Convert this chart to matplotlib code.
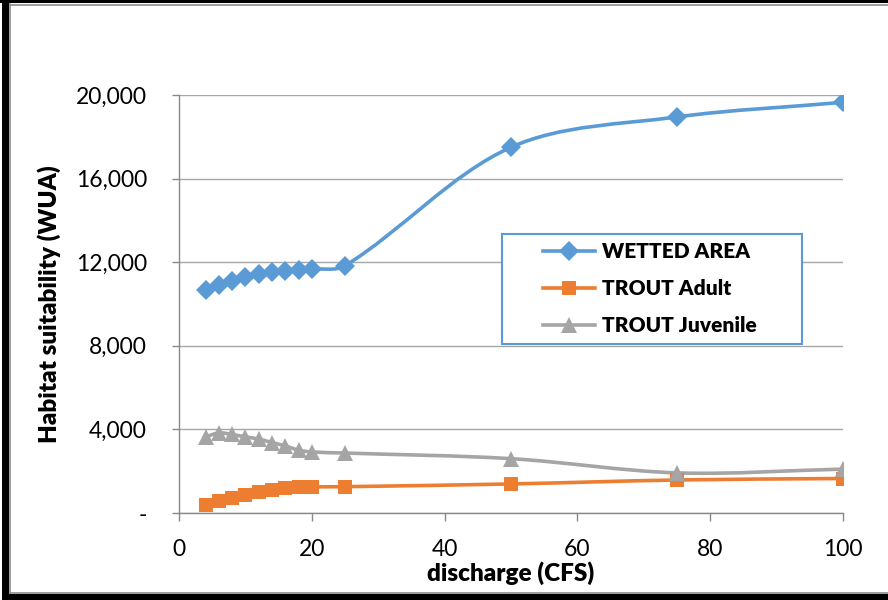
import numpy as np
import matplotlib
matplotlib.use('Agg')
import matplotlib.pyplot as plt
from matplotlib.path import Path
from matplotlib.patches import PathPatch, Rectangle
from matplotlib.lines import Line2D
from matplotlib.ticker import FuncFormatter

plt.rcParams['font.family'] = ['Lato', 'DejaVu Sans']

discharge = [4, 6, 8, 10, 12, 14, 16, 18, 20, 25, 50, 75, 100]
wetted_area = [10650, 10900, 11100, 11290, 11430, 11530, 11580, 11630, 11670, 11830, 17500, 18950, 19650]
trout_adult = [380, 570, 720, 860, 1000, 1100, 1200, 1240, 1250, 1260, 1390, 1580, 1650]
trout_juvenile = [3640, 3830, 3760, 3640, 3540, 3370, 3210, 3010, 2920, 2870, 2600, 1920, 2100]

series = [
    ('WETTED AREA', wetted_area, '#5B9BD5', 'D', 10),
    ('TROUT Adult', trout_adult, '#ED7D31', 's', 10.5),
    ('TROUT Juvenile', trout_juvenile, '#A5A5A5', '^', 11),
]


def smooth_path(ax, x, y):
    # smoothed line like excel: chord-length catmull-rom as cubic beziers,
    # lengths measured on screen so short steps don't overshoot much
    p = np.column_stack([x, y]).astype(float)
    s = ax.transData.transform(p)
    n = len(p)
    d = np.hypot(*np.diff(s, axis=0).T)
    verts = [p[0]]
    codes = [Path.MOVETO]
    for i in range(n - 1):
        if i > 0:
            c1 = p[i] + (p[i + 1] - p[i - 1]) * d[i] / (d[i - 1] + d[i]) / 3.0
        else:
            c1 = p[i] + (p[i + 1] - p[i]) / 3.0
        if i + 2 < n:
            c2 = p[i + 1] - (p[i + 2] - p[i]) * d[i] / (d[i] + d[i + 1]) / 3.0
        else:
            c2 = p[i + 1] - (p[i + 1] - p[i]) / 3.0
        verts += [c1, c2, p[i + 1]]
        codes += [Path.CURVE4] * 3
    return Path(verts, codes)


fig = plt.figure(figsize=(8.88, 6.0), dpi=100)
ax = fig.add_axes([179 / 888, 1 - 513 / 600, (843 - 179) / 888, (513 - 95) / 600])
ax.set_xlim(0, 100)
ax.set_ylim(0, 20000)

handles = []
for name, vals, col, mk, ms in series:
    ax.add_patch(PathPatch(smooth_path(ax, discharge, vals), fill=False, edgecolor=col,
                           linewidth=2.6, capstyle='round', zorder=3))
    ax.plot(discharge, vals, linestyle='none', marker=mk, color=col, markersize=ms,
            markeredgewidth=0, zorder=4)
    handles.append(Line2D([], [], color=col, linewidth=2.6, marker=mk, markersize=ms,
                          markeredgewidth=0))

ax.set_xticks(range(0, 101, 20))
ax.set_yticks(range(0, 20001, 4000))
ax.yaxis.set_major_formatter(FuncFormatter(lambda v, p: '-' if v == 0 else '{:,.0f}'.format(v)))
ax.grid(axis='y', color='#A6A6A6', linewidth=1.0)
ax.set_axisbelow(True)
for s in ['top', 'right']:
    ax.spines[s].set_visible(False)
for s in ['left', 'bottom']:
    ax.spines[s].set_color('#898989')
    ax.spines[s].set_linewidth(1.0)
ax.tick_params(axis='both', colors='#898989', labelcolor='black', labelsize=16.5, width=1.0)
ax.tick_params(axis='y', length=5, pad=18)
ax.tick_params(axis='x', length=6, pad=13)

ax.set_xlabel('discharge (CFS)', fontsize=17.5, fontweight='heavy', labelpad=1)
ax.set_ylabel('Habitat suitability (WUA)', fontsize=17.5, fontweight='heavy', labelpad=11)

# legend box drawn separately so it can be wider than its contents
box = ((502 - 179) / 664, (513 - 344) / 418)
ax.add_artist(Rectangle(box, 300 / 664, 110 / 418, transform=ax.transAxes, fill=False,
                        edgecolor='#5B9BD5', linewidth=1.5, zorder=5))
ax.add_artist(Rectangle(box, 300 / 664, 110 / 418, transform=ax.transAxes,
                        facecolor='white', edgecolor='none', zorder=2.5))
leg = ax.legend(handles, [s[0] for s in series], loc='upper left',
                bbox_to_anchor=((543 - 179) / 664, (513 - 242) / 418),
                frameon=False, fontsize=15, handlelength=2.5,
                borderpad=0, labelspacing=0.86, handletextpad=0.35, borderaxespad=0)
for t in leg.get_texts():
    t.set_fontweight('heavy')

# outer frame (black band with thin gray line inside)
W, H = 888.0, 600.0
fig.add_artist(Rectangle((2 / W, 0), 7 / W, 1, transform=fig.transFigure, color='black', lw=0))
fig.add_artist(Rectangle((0, 597 / H), 1, 3 / H, transform=fig.transFigure, color='black', lw=0))
fig.add_artist(Rectangle((2 / W, 0), 1, 6 / H, transform=fig.transFigure, color='black', lw=0))
fig.add_artist(Line2D([9.5 / W, 9.5 / W], [7 / H, 596 / H], transform=fig.transFigure, color='#8C8C8C', lw=1.2))
fig.add_artist(Line2D([9.5 / W, 1], [595.5 / H, 595.5 / H], transform=fig.transFigure, color='#8C8C8C', lw=1.2))
fig.add_artist(Line2D([9.5 / W, 1], [7.5 / H, 7.5 / H], transform=fig.transFigure, color='#8C8C8C', lw=1.2))

fig.savefig('out.png', dpi=100)
